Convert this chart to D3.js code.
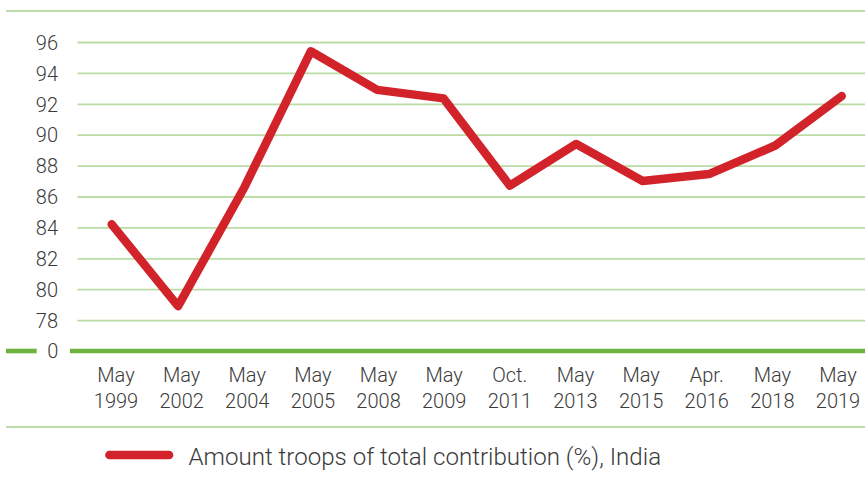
<!DOCTYPE html>
<html>
<head>
<meta charset="utf-8">
<script src="https://cdn.jsdelivr.net/npm/d3@7"></script>
<style>
  html, body { margin: 0; padding: 0; background: #fff; }
  svg text { font-family: Roboto, "Noto Sans", sans-serif; font-weight: 300; fill: #3b3b3b; }
</style>
</head>
<body>
<svg id="chart" width="865" height="487"></svg>
<script>
// data
var monthLabels = ["May", "May", "May", "May", "May", "May", "Oct.", "May", "May", "Apr.", "May", "May"]
var yearLabels = ["1999", "2002", "2004", "2005", "2008", "2009", "2011", "2013", "2015", "2016", "2018", "2019"]
var indiaShare = [84.2, 78.9, 86.6, 95.4, 92.9, 92.35, 86.7, 89.4, 87.0, 87.45, 89.3, 92.5]
var yTicks = [78, 80, 82, 84, 86, 88, 90, 92, 94, 96]
var seriesName = "Amount troops of total contribution (%), India"

var categories = yearLabels.map(function(d, i) { return monthLabels[i] + " " + d })
var data = categories.map(function(c, i) { return { cat: c, value: indiaShare[i] } })

var width = 865, height = 487
var svg = d3.select("#chart")

var gridColor = "#bcdca5", zeroColor = "#6cb33f", red = "#d2232a"

// broken axis: the "0" baseline sits one step under 78
var y = d3.scaleLinear().domain([76, 96]).range([351, 42])
var x = d3.scalePoint().domain(categories).range([111.7, 841.7])
var xLabel = d3.scalePoint().domain(categories).range([116, 838])

// frame lines
svg.append("line").attr("x1", 6).attr("x2", width).attr("y1", 11).attr("y2", 11)
    .attr("stroke", gridColor).attr("stroke-width", 1.8)
svg.append("line").attr("x1", 6).attr("x2", width).attr("y1", 427).attr("y2", 427)
    .attr("stroke", gridColor).attr("stroke-width", 1.8)

// y axis
var yAxis = d3.axisLeft(y).tickValues(yTicks).tickSize(-(width - 77.5)).tickPadding(19.5)
var gy = svg.append("g").attr("transform", "translate(77.5,0)").call(yAxis)
gy.select(".domain").remove()
gy.selectAll(".tick line").attr("stroke", gridColor).attr("stroke-width", 1.8)
gy.selectAll(".tick text").attr("font-size", 20).attr("dy", "0.36em")

// zero baseline
svg.append("line").attr("x1", 6).attr("x2", 36.7).attr("y1", y(76)).attr("y2", y(76))
    .attr("stroke", zeroColor).attr("stroke-width", 4.6)
svg.append("line").attr("x1", 70).attr("x2", width).attr("y1", y(76)).attr("y2", y(76))
    .attr("stroke", zeroColor).attr("stroke-width", 4.6)
svg.append("text").attr("x", 58.3).attr("y", y(76)).attr("dy", "0.36em")
    .attr("text-anchor", "end").attr("font-size", 20).text("0")

// x labels
var gx = svg.append("g")
var lab = gx.selectAll("text").data(categories).join("text")
    .attr("text-anchor", "middle").attr("font-size", 20)
    .attr("x", function(d) { return xLabel(d) })
lab.append("tspan").attr("x", function(d) { return xLabel(d) }).attr("y", 382)
    .text(function(d, i) { return monthLabels[i] })
lab.append("tspan").attr("x", function(d) { return xLabel(d) }).attr("y", 407.5)
    .text(function(d, i) { return yearLabels[i] })

// the series
var line = d3.line().x(function(d) { return x(d.cat) }).y(function(d) { return y(d.value) })
svg.append("path").datum(data).attr("d", line)
    .attr("fill", "none").attr("stroke", red).attr("stroke-width", 8.5)
    .attr("stroke-linecap", "round").attr("stroke-linejoin", "round")

// legend
svg.append("line").attr("x1", 109.5).attr("x2", 169).attr("y1", 455).attr("y2", 455)
    .attr("stroke", red).attr("stroke-width", 8.7).attr("stroke-linecap", "round")
svg.append("text").attr("x", 188.5).attr("y", 465).attr("font-size", 24.1).text(seriesName)
</script>
</body>
</html>
